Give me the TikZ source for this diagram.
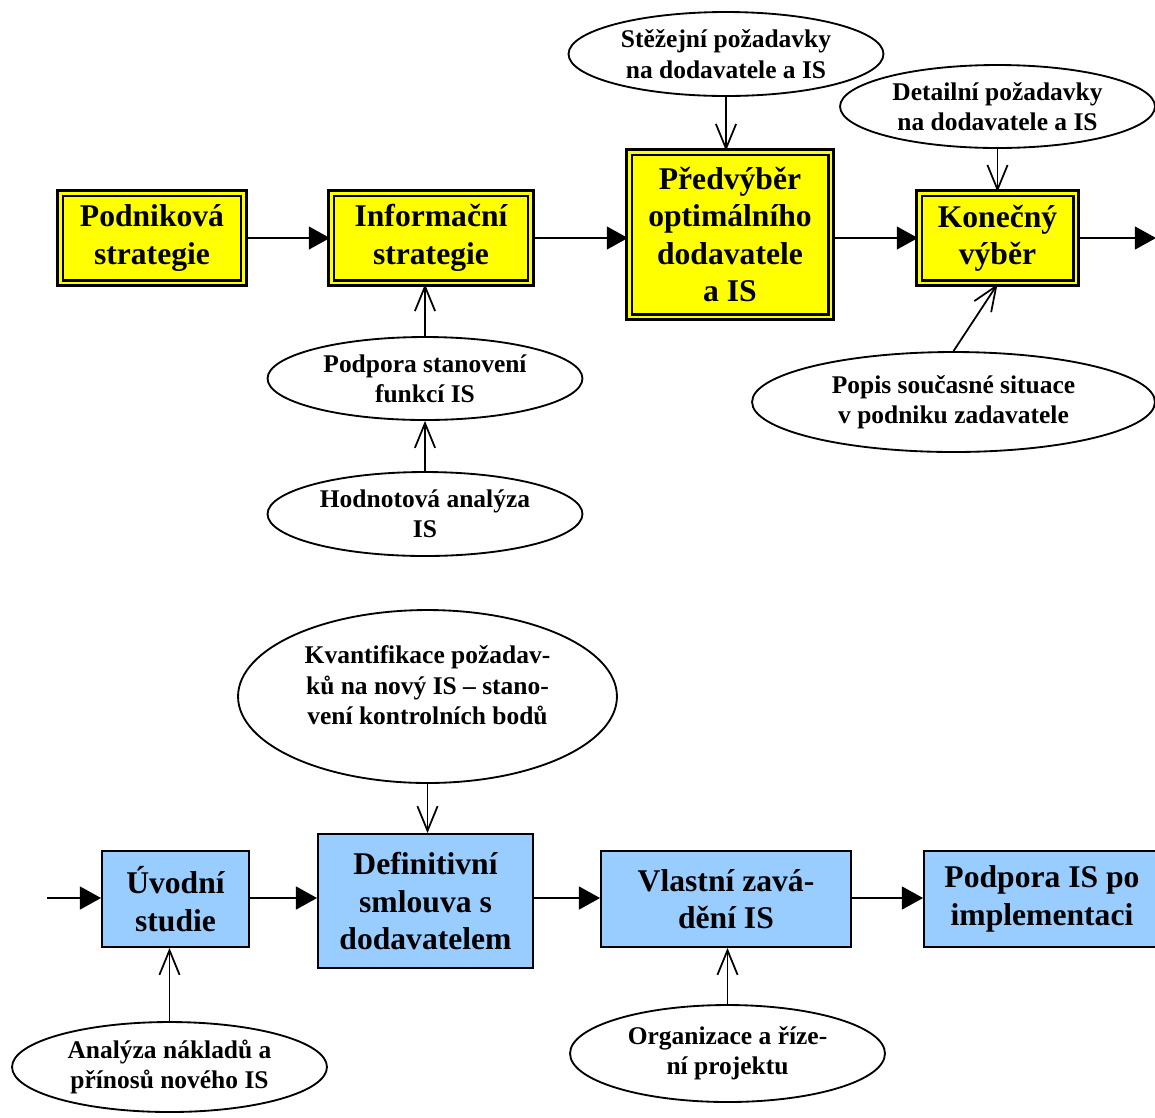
\documentclass[tikz,border=0pt]{standalone}
\usepackage{fontspec}
\setmainfont{Liberation Serif}
\usepackage{tikz}
\usetikzlibrary{shapes.geometric, arrows.meta, positioning, calc}
\definecolor{isyellow}{RGB}{255,255,0}
\definecolor{isblue}{RGB}{153,204,255}

\begin{document}
\begin{tikzpicture}[
  x=0.02cm, y=-0.02cm,
  ybox/.style  = {rectangle, draw=black, line width=1.3pt, double=isyellow, double distance=1.7pt, fill=isyellow, align=center, inner sep=0pt, font=\fontsize{18}{21.3}\selectfont\bfseries},
  bbox/.style  = {rectangle, draw=black, line width=1.1pt, fill=isblue, align=center, inner sep=0pt, font=\fontsize{18}{21.3}\selectfont\bfseries},
  oval/.style  = {ellipse, draw=black, line width=1.05pt, fill=white, align=center, inner sep=0pt, font=\fontsize{14.5}{17.3}\selectfont\bfseries},
  ovaltext/.style = {align=center, inner sep=0pt, font=\fontsize{14.5}{17.3}\selectfont\bfseries},
  arr/.style   = {-{Triangle[length=12pt, width=13pt]}, line width=1pt},
  inarr/.style = {-{Straight Barb[length=14pt, width=11.5pt]}, line width=1pt}
]
\useasboundingbox (0,0) rectangle (1155,1117);

% ---- top row ----
\node[ybox, minimum width=3.68cm, minimum height=1.8cm] (podnik) at (152,238)   {Podniková\\strategie};
\node[ybox, minimum width=4.0cm,  minimum height=1.8cm] (infstr) at (431,238)   {Informační\\strategie};
\node[ybox, minimum width=4.04cm, minimum height=3.3cm] (predv)  at (730,234.5) {Předvýběr\\optimálního\\dodavatele\\a IS};
\node[ybox, minimum width=3.14cm, minimum height=1.8cm] (konec)  at (997.5,238) {Konečný\\výběr};
\coordinate (topout) at (1156,238);

\node[oval, minimum width=6.3cm,  minimum height=1.68cm] (stezej)  at (726,54)    {Stěžejní požadavky\\na dodavatele a IS};
\node[oval, minimum width=6.3cm,  minimum height=1.66cm] (detail)  at (997.5,106.5) {Detailní požadavky\\na dodavatele a IS};
\node[oval, minimum width=8.06cm, minimum height=2.0cm]  (popis)   at (953.5,402) {Popis současné situace\\v podniku zadavatele};
\node[oval, minimum width=6.3cm,  minimum height=1.66cm] (podpora) at (425,378.5) {Podpora stanovení\\funkcí IS};
\node[oval, minimum width=6.3cm,  minimum height=1.68cm] (hodnot)  at (425,514)   {Hodnotová analýza\\IS};

\draw[arr] (podnik.east) -- (podnik.east -| infstr.west);
\draw[arr] (infstr.east) -- (infstr.east -| predv.west);
\draw[arr] (konec.west -| predv.east) -- (konec.west);
\draw[arr] (konec.east) -- (topout);

\draw[inarr] (stezej.south) -- (stezej.south |- predv.north);
\draw[inarr] (detail.south) -- (konec.north);
\draw[inarr] (popis.north)  -- (konec.south);
\draw[inarr] (podpora.north) -- (podpora.north |- infstr.south);
\draw[inarr] (hodnot.north) -- (podpora.south);

% ---- bottom row ----
\node[bbox, minimum width=2.94cm, minimum height=1.92cm] (uvod)   at (175.5,899) {Úvodní\\studie};
\node[bbox, minimum width=4.3cm,  minimum height=2.68cm] (defin)  at (425.5,901) {Definitivní\\smlouva s\\dodavatelem};
\node[bbox, minimum width=5.0cm,  minimum height=1.92cm] (vlast)  at (726,899)   {Vlastní zavá-\\dění IS};
\node[bbox, minimum width=4.72cm, minimum height=1.92cm] (podimp) at (1042,899)  {Podpora IS po\\implementaci};
\coordinate (botin) at (47,898);

\node[oval, minimum width=7.58cm, minimum height=3.46cm] (kvant) at (427.5,696.5) {};
\node[ovaltext] (kvanttxt) at ([yshift=0.22cm]kvant.center) {Kvantifikace požadav-\\ků na nový IS – stano-\\vení kontrolních bodů};
\node[oval, minimum width=6.3cm, minimum height=1.8cm]  (analyza) at (169.5,1067)  {Analýza nákladů a\\přínosů nového IS};
\node[oval, minimum width=6.3cm, minimum height=1.94cm] (organiz) at (727.5,1053.5) {Organizace a říze-\\ní projektu};

\draw[arr] (botin) -- (botin -| uvod.west);
\draw[arr] (uvod.east |- botin) -- (botin -| defin.west);
\draw[arr] (defin.east |- botin) -- (botin -| vlast.west);
\draw[arr] (vlast.east |- botin) -- (botin -| podimp.west);

\draw[inarr] (kvant.south) -- (kvant.south |- defin.north);
\draw[inarr] (analyza.north) -- (analyza.north |- uvod.south);
\draw[inarr] (organiz.north) -- (organiz.north |- vlast.south);
\end{tikzpicture}
\end{document}
